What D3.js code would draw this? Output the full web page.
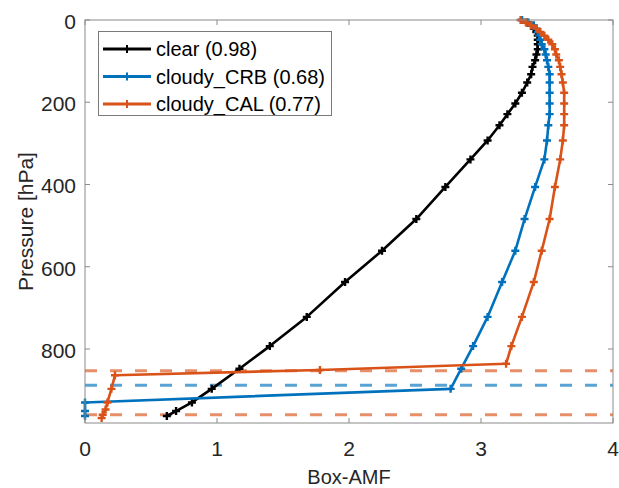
<!DOCTYPE html>
<html>
<head>
<meta charset="utf-8">
<script src="https://cdn.jsdelivr.net/npm/d3@7"></script>
<style>
  html, body { margin: 0; padding: 0; background: #fff; }
  svg { display: block; font-family: "Liberation Sans", Arial, Helvetica, sans-serif; }
</style>
</head>
<body>
<svg id="chart" width="619" height="488"></svg>
<script>
// ---------------- data ----------------
const seriesNames = ["clear (0.98)", "cloudy_CRB (0.68)", "cloudy_CAL (0.77)"];
const seriesColors = ["#000000", "#0072BD", "#D95319"];

const clearP = [0, 6, 13, 21, 29, 38, 48, 59, 71, 84, 98, 114, 132, 152, 177, 203, 229, 256, 293, 339, 406, 484, 561, 637, 722, 793, 848, 897, 930, 951, 963];
const clearAMF = [3.31, 3.35, 3.38, 3.40, 3.42, 3.43, 3.43, 3.43, 3.43, 3.42, 3.41, 3.39, 3.38, 3.35, 3.31, 3.26, 3.20, 3.14, 3.05, 2.92, 2.73, 2.51, 2.25, 1.97, 1.68, 1.40, 1.17, 0.96, 0.81, 0.69, 0.62];

const crbP = [0, 6, 13, 21, 29, 38, 48, 59, 71, 84, 98, 114, 132, 152, 177, 203, 229, 256, 293, 339, 406, 484, 561, 637, 722, 793, 848, 897, 930, 951, 963];
const crbAMF = [3.31, 3.36, 3.40, 3.42, 3.43, 3.44, 3.45, 3.46, 3.48, 3.49, 3.50, 3.51, 3.52, 3.52, 3.52, 3.52, 3.52, 3.51, 3.50, 3.48, 3.41, 3.33, 3.26, 3.16, 3.05, 2.94, 2.85, 2.77, 0.0, 0.0, 0.0];

const calP = [0, 6, 13, 21, 29, 38, 48, 59, 71, 84, 98, 114, 132, 152, 177, 203, 229, 256, 293, 339, 406, 484, 561, 637, 722, 793, 836, 851, 864, 897, 930, 947, 960, 968];
const calAMF = [3.30, 3.34, 3.38, 3.42, 3.45, 3.48, 3.51, 3.54, 3.56, 3.57, 3.59, 3.60, 3.61, 3.62, 3.63, 3.63, 3.63, 3.63, 3.62, 3.60, 3.56, 3.52, 3.46, 3.40, 3.31, 3.23, 3.19, 1.78, 0.227, 0.20, 0.17, 0.156, 0.134, 0.126];

// cloud boundary pressures (dashed horizontal lines)
const cloudLevels = [853, 888, 960];
const cloudLevelSeries = [2, 1, 2]; // colour index

const xTicks = [0, 1, 2, 3, 4];
const yTicks = [0, 200, 400, 600, 800];
const xLabel = "Box-AMF";
const yLabel = "Pressure [hPa]";

// ---------------- layout ----------------
const svg = d3.select("#chart");
const mLeft = 85, mRight = 613, mTop = 20, mBottom = 423;
const x = d3.scaleLinear().domain([0, 4]).range([mLeft, mRight]);
const y = d3.scaleLinear().domain([0, 980]).range([mTop, mBottom]);
const axisColor = "#262626";
const frameColor = "#8a8a8a";

const series = [
  { p: clearP, v: clearAMF },
  { p: crbP, v: crbAMF },
  { p: calP, v: calAMF }
];

// dashed cloud lines
const gDash = svg.append("g");
cloudLevels.forEach((lev, i) => {
  gDash.append("line")
    .attr("x1", x(0)).attr("x2", x(4))
    .attr("y1", y(lev)).attr("y2", y(lev))
    .attr("stroke", seriesColors[cloudLevelSeries[i]])
    .attr("stroke-opacity", 0.65)
    .attr("stroke-width", 3)
    .attr("stroke-dasharray", "12,13");
});

// curves
const line = d3.line().x(d => x(d[0])).y(d => y(d[1]));
const plus = "M-4,0H4M0,-4V4";
series.forEach((s, i) => {
  const pts = s.v.map((v, k) => [v, s.p[k]]);
  const g = svg.append("g");
  g.append("path").datum(pts)
    .attr("d", line)
    .attr("fill", "none")
    .attr("stroke", seriesColors[i])
    .attr("stroke-width", 2.6)
    .attr("stroke-linejoin", "round");
  g.selectAll("path.m").data(pts).enter().append("path")
    .attr("class", "m")
    .attr("d", plus)
    .attr("transform", d => `translate(${x(d[0])},${y(d[1])})`)
    .attr("stroke", seriesColors[i])
    .attr("stroke-width", 2.4)
    .attr("fill", "none");
});

// axes frame
const gAx = svg.append("g");
gAx.append("rect")
  .attr("x", mLeft).attr("y", mTop)
  .attr("width", mRight - mLeft).attr("height", mBottom - mTop)
  .attr("fill", "none").attr("stroke", frameColor).attr("stroke-width", 1);

const tickLen = 5;
xTicks.forEach(t => {
  gAx.append("line").attr("x1", x(t)).attr("x2", x(t)).attr("y1", mBottom).attr("y2", mBottom - tickLen)
    .attr("stroke", frameColor);
  gAx.append("line").attr("x1", x(t)).attr("x2", x(t)).attr("y1", mTop).attr("y2", mTop + tickLen)
    .attr("stroke", frameColor);
  gAx.append("text").attr("x", x(t)).attr("y", 456)
    .attr("text-anchor", "middle").attr("font-size", 21).attr("fill", axisColor)
    .text(t);
});
yTicks.forEach(t => {
  gAx.append("line").attr("x1", mLeft).attr("x2", mLeft + tickLen).attr("y1", y(t)).attr("y2", y(t))
    .attr("stroke", frameColor);
  gAx.append("line").attr("x1", mRight).attr("x2", mRight - tickLen).attr("y1", y(t)).attr("y2", y(t))
    .attr("stroke", frameColor);
  gAx.append("text").attr("x", 76).attr("y", y(t) + 9)
    .attr("text-anchor", "end").attr("font-size", 21).attr("fill", axisColor)
    .text(t);
});

// axis labels
svg.append("text").attr("x", (mLeft + mRight) / 2).attr("y", 484)
  .attr("text-anchor", "middle").attr("font-size", 20).attr("fill", axisColor)
  .text(xLabel);
svg.append("text")
  .attr("transform", `translate(33,${(mTop + mBottom) / 2}) rotate(-90)`)
  .attr("text-anchor", "middle").attr("font-size", 21).attr("fill", axisColor)
  .text(yLabel);

// legend
const lg = svg.append("g");
lg.append("rect").attr("x", 98.5).attr("y", 31.5).attr("width", 233).attr("height", 84)
  .attr("fill", "#fff").attr("stroke", "#7a7a7a").attr("stroke-width", 1);
const rowY = [49, 76.5, 104];
seriesNames.forEach((name, i) => {
  lg.append("line").attr("x1", 103).attr("x2", 151).attr("y1", rowY[i]).attr("y2", rowY[i])
    .attr("stroke", seriesColors[i]).attr("stroke-width", 3);
  lg.append("path").attr("d", plus).attr("transform", `translate(127,${rowY[i]})`)
    .attr("stroke", seriesColors[i]).attr("stroke-width", 2).attr("fill", "none");
  lg.append("text").attr("x", 156).attr("y", rowY[i] + 7)
    .attr("font-size", 20).attr("fill", "#000")
    .text(name);
});
</script>
</body>
</html>
